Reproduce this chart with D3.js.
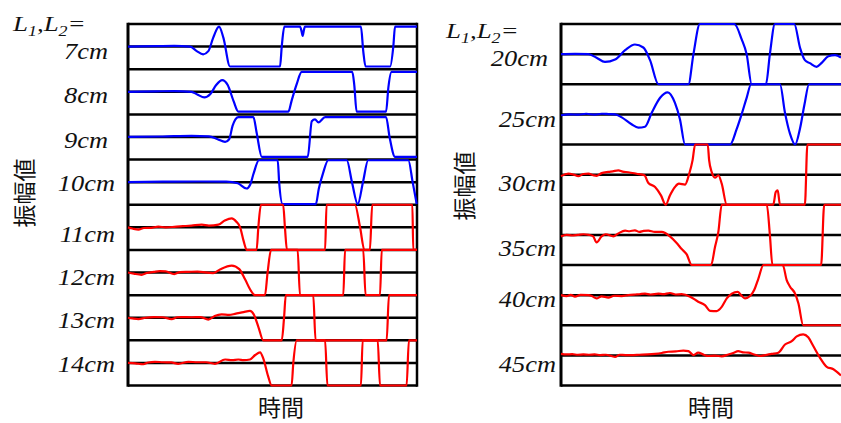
<!DOCTYPE html>
<html>
<head>
<meta charset="utf-8">
<script src="https://cdn.jsdelivr.net/npm/d3@7"></script>
<style>
  body { margin: 0; background: #fff; }
  .row-label { font-family: 'Liberation Serif', 'Times New Roman', serif; font-style: italic; font-size: 24px; fill: #111; }
  .axis-title { font-family: 'Noto Sans CJK JP', 'Noto Sans', sans-serif; font-size: 23px; fill: #111; }
  .grid-line { stroke: #000; stroke-width: 2.5; }
  .trace { fill: none; stroke-width: 2.2; stroke-linejoin: round; }
</style>
</head>
<body>
<svg id="chart"></svg>
<script>
// row labels (L1, L2 distance)
const leftLabels = ['7cm', '8cm', '9cm', '10cm', '11cm', '12cm', '13cm', '14cm'];
const rightLabels = ['20cm', '25cm', '30cm', '35cm', '40cm', '45cm'];

// traces: [time (0-100), amplitude (-1 .. 1 = bottom .. top of the row)]
const trace7 = [[0,0],[10,0.02],[16,0.03],[21.5,0],[23.8,-0.2],[26,-0.34],[27.8,-0.2],[29.5,0.4],[31.5,0.88],[33,0.4],[35.3,-0.88],[52.6,-0.88],[53.2,0],[54.1,0.88],[59.5,0.88],[60.1,0.65],[60.4,0.47],[60.9,0.75],[61.2,0.88],[80.6,0.88],[81.4,-0.2],[82.2,-0.88],[90.7,-0.88],[91.8,0],[92.4,0.88],[100,0.88]];
const trace8 = [[0,0],[10,0.02],[16,0.03],[22,0],[24,-0.12],[26.4,-0.25],[28.5,-0.1],[30.5,0.3],[32.6,0.52],[34.5,0.3],[36.5,-0.4],[38.2,-0.88],[55.5,-0.88],[56.6,-0.4],[58.4,0.35],[60.1,0.88],[77.6,0.88],[78.3,0.3],[79.1,-0.88],[89.3,-0.88],[90.1,0.2],[91.2,0.88],[100,0.88]];
const trace9 = [[0,0],[12,0.02],[22,0.05],[28,0.03],[31,-0.1],[33.6,-0.22],[35,-0.1],[36.2,0.5],[38.2,0.88],[43.4,0.88],[44.5,0.2],[46.3,-0.88],[62.2,-0.88],[63.6,0.7],[64.7,0.78],[65.9,0.65],[68.2,0.88],[89.3,0.88],[90.5,0],[92.4,-0.88],[100,-0.88]];
const trace10 = [[0,0],[12,0.02],[25,0.03],[34,0.02],[38,-0.05],[41,-0.28],[42.3,-0.1],[43.5,0.4],[45.3,0.97],[51.8,0.97],[52.3,0],[53.5,-0.97],[65,-0.97],[66,-0.3],[67.5,0.4],[69.3,0.97],[75.7,0.97],[77.5,0],[79.5,-0.97],[81.3,0],[83.1,0.97],[97,0.97],[98.5,0],[99.9,-0.97]];
const trace11 = [[0,0],[1.5,-0.05],[3.6,-0.1],[5.5,-0.03],[8,-0.02],[10.5,0.03],[13,0],[16,0.02],[19,0.05],[22,0.08],[25.5,0.12],[28,0.08],[31.3,0.12],[33.5,0.3],[35.9,0.4],[37.5,0.25],[38.8,0],[40,-0.6],[41.1,-1],[44.5,-1],[45.1,0],[46,1],[53.7,1],[54.3,0],[55,-1],[68.2,-1],[68.7,1],[78.5,1],[80.3,0],[81.8,-1],[83.7,-1],[84.5,1],[98.4,1],[98.7,-1],[100,-1]];
const trace12 = [[0,0],[2,-0.05],[4.7,-0.1],[6.5,-0.02],[9,0.03],[11,0.06],[13,0.05],[16,-0.07],[18,0.02],[21,0.03],[24,0.04],[29.5,-0.03],[32,0.15],[35.9,0.31],[38.5,0.15],[40.5,-0.3],[42.5,-0.8],[43.9,-1],[47.4,-1],[48.3,0],[49.5,1],[58.7,1],[59.5,-1],[74.5,-1],[75.1,1],[81.4,1],[82.2,-1],[87.2,-1],[87.8,1],[100,1]];
const trace13 = [[0,0],[1.5,-0.03],[3.6,-0.06],[6,0],[9,0.03],[12,0.02],[15.1,-0.06],[17,0.02],[18.6,0.03],[22,0.02],[25,0.03],[27.8,-0.08],[30,0.08],[32.4,0.15],[35,0.13],[37,0.17],[40,0.25],[42.2,0.3],[43.5,0.15],[45.1,-0.4],[46.8,-1],[53.2,-1],[54,0],[54.6,1],[64.1,1],[64.9,-1],[89.5,-1],[90.3,1],[100,1]];
const trace14 = [[0,0],[2.5,-0.02],[5.3,-0.06],[7,0.02],[9.3,0.05],[12,0.03],[15,0.02],[17.4,-0.04],[20.9,0.05],[24,0.03],[27,0.03],[30.1,-0.04],[33.6,0.15],[36,0.12],[38.2,0.15],[40,0.12],[42.2,0.15],[44,0.35],[45.7,0.47],[46.8,0.2],[48.5,-0.6],[49.7,-1],[56.6,-1],[57.2,0],[58.4,1],[68.2,1],[69,-1],[80.6,-1],[81.2,1],[86.4,1],[87.2,-1],[96.4,-1],[97.2,1],[100,1]];

const trace20 = [[0,0],[5,0.01],[9.8,0],[12.7,-0.12],[15.7,-0.26],[19.3,-0.18],[22.9,0.13],[26.4,0.32],[29.4,0.22],[31.8,-0.2],[34.8,-1],[45.5,-1],[47.3,0],[49.6,1],[61.9,1],[64.5,0.5],[66.3,0],[68.1,-1],[73.2,-1],[74.6,0],[76.4,1],[83.3,1],[85.4,0.2],[87.1,-0.2],[88.9,-0.3],[91.3,-0.42],[93.1,-0.29],[95.5,-0.07],[97.9,-0.03],[100,-0.11]];
const trace25 = [[0,-0.03],[3,0],[6,-0.01],[9,0.02],[12,-0.01],[14.5,0.02],[17,0.01],[19.3,0],[21.7,-0.1],[25.2,-0.33],[27.6,-0.44],[30,-0.41],[32.4,0.05],[35.4,0.55],[38.1,0.73],[40.7,0.38],[42.5,-0.17],[44.3,-1],[60.4,-1],[62.7,-0.5],[64.5,0],[66.3,0.55],[67.9,1],[78.2,1],[80,0.05],[81.8,-0.65],[83.6,-1],[85.4,-0.45],[86.9,0.3],[88.6,1],[100,1]];
const trace30 = [[0,-0.05],[2.6,0.03],[4.5,0],[6.2,-0.05],[8,0.02],[9.8,0.03],[11.5,-0.02],[12.7,-0.04],[14.5,0.05],[16.9,0.09],[18.5,0.11],[20.5,0.14],[22,0.1],[24,0.08],[27,0.03],[29.8,-0.02],[31.2,-0.28],[33.6,-0.41],[35.7,-0.69],[37.4,-1],[38.9,-0.69],[40.7,-0.41],[42.1,-0.3],[44.3,-0.33],[45.8,0.03],[47,0.48],[47.9,1],[52.4,1],[52.9,0.48],[53.8,0.09],[55,-0.1],[56.2,-0.02],[57.4,-0.3],[59.2,-1],[75.8,-1],[76.7,-0.58],[77.4,-0.52],[78.2,-1],[87.1,-1],[88,1],[100,1]];
const trace35 = [[0,-0.05],[2,0],[4,-0.02],[6,0],[8,0.02],[10,0],[11.5,-0.05],[12.7,-0.25],[14.5,-0.05],[16,0.02],[18.7,-0.05],[20.5,0.05],[22.9,0.14],[24.5,0.12],[26.4,0.15],[28,0.1],[29.5,0.13],[31.2,0.14],[33.5,0.1],[36,0.1],[38.9,-0.05],[41.3,-0.27],[43.1,-0.47],[44.9,-0.65],[46.7,-1],[53.6,-1],[55,-0.4],[56.2,0.1],[57.4,1],[73.5,1],[74.6,0],[75.5,-1],[92.9,-1],[94,1],[100,1]];
const trace40 = [[0,0],[2,-0.03],[3.5,0.01],[5,-0.05],[7,0.01],[9.8,0],[11,-0.03],[12.7,-0.11],[14.5,-0.04],[16.9,-0.08],[19,-0.02],[21.7,-0.03],[24,0],[26.5,0.02],[28,0.03],[30,0.05],[32,0.02],[34.8,0.05],[36.5,0.03],[38.9,0.07],[41,0.02],[43.1,0.03],[46.1,-0.05],[49,-0.22],[51.4,-0.33],[53.2,-0.52],[55.6,-0.53],[57.4,-0.39],[59.2,-0.11],[61,0.05],[63.1,0.11],[64.3,0],[65.7,-0.11],[67.5,-0.03],[69,0.17],[70.5,0.55],[72.3,1],[79.2,1],[80.6,0.5],[81.8,0.28],[83.6,0.05],[84.8,-0.28],[86.5,-1],[100,-1]];
const trace45 = [[0,0.05],[2,0.03],[4,0.04],[6,0.02],[8,0.03],[10,0.02],[12,0.03],[14,0.01],[16,0.02],[19.3,-0.05],[21,0.02],[23,0.01],[25.2,0.01],[28,0.02],[31,0.03],[33.6,0.05],[36,0.08],[38.3,0.12],[41,0.13],[43.7,0.16],[45.5,0.14],[47.3,0.01],[49,0.09],[51,0.02],[52.6,-0.02],[55,-0.01],[57.4,-0.03],[59.8,0.03],[61.5,0.08],[63.3,0.14],[65,0.1],[66.9,0.09],[69,0.03],[71.1,-0.02],[73,0.01],[75.2,0.05],[77.6,0.09],[80,0.36],[82.4,0.47],[84.2,0.63],[86.5,0.7],[88.3,0.6],[90.1,0.31],[92.5,-0.08],[94.9,-0.38],[97.3,-0.46],[100,-0.67]];

const leftTraces = [trace7, trace8, trace9, trace10, trace11, trace12, trace13, trace14];
const rightTraces = [trace20, trace25, trace30, trace35, trace40, trace45];

const xTitle = '時間';
const yTitle = '振幅値';

class StackedTraces {

  constructor(_config, _labels, _traces) {
    this.config = _config;
    this.labels = _labels;
    this.traces = _traces;
    this.initVis();
  }

  initVis() {
    let vis = this;
    const c = vis.config;

    vis.xScale = d3.scaleLinear()
        .domain([0, 100])
        .range([c.left, c.right]);

    vis.rowScale = d3.scaleBand()
        .domain(vis.labels)
        .range([c.top, c.bottom]);

    vis.chart = c.svg.append('g');

    // horizontal lines: top, center, bottom of every row
    const rowH = vis.rowScale.bandwidth();
    const levels = [];
    vis.labels.forEach(l => {
      levels.push(vis.rowScale(l));
      levels.push(vis.rowScale(l) + rowH / 2);
    });
    levels.push(c.bottom);

    vis.chart.selectAll('.grid-line')
        .data(levels)
      .enter().append('line')
        .attr('class', 'grid-line')
        .attr('x1', c.left)
        .attr('x2', c.right)
        .attr('y1', d => d)
        .attr('y2', d => d);

    vis.chart.append('line')
        .attr('class', 'grid-line')
        .attr('x1', c.left).attr('x2', c.left)
        .attr('y1', c.top - 1.2).attr('y2', c.bottom + 1.2)
        .style('stroke-width', 3);

    if (c.rightBorder) {
      vis.chart.append('line')
          .attr('class', 'grid-line')
          .attr('x1', c.right).attr('x2', c.right)
          .attr('y1', c.top - 1.2).attr('y2', c.bottom + 1.2);
    }

    vis.updateVis();
  }

  updateVis() {
    let vis = this;
    const c = vis.config;
    const rowH = vis.rowScale.bandwidth();

    vis.labels.forEach((label, i) => {
      const yScale = d3.scaleLinear()
          .domain([-1, 1])
          .range([vis.rowScale(label) + rowH, vis.rowScale(label)]);

      const line = d3.line()
          .x(d => vis.xScale(d[0]))
          .y(d => yScale(d[1]))
          .curve(d3.curveMonotoneX);

      vis.chart.append('path')
          .datum(vis.traces[i])
          .attr('class', 'trace')
          .attr('stroke', i < c.blueRows ? '#0000ff' : '#ff0000')
          .attr('d', line);

      // labels are drawn a bit wider than the font, like the source figure
      const lx = c.labelX - (label.length < 4 ? 7 : 0) - c.labelShift(i);
      const ly = vis.rowScale(label) + rowH / 2 + c.labelDy[i];
      vis.chart.append('text')
          .attr('class', 'row-label')
          .attr('transform', `translate(${lx},${ly}) scale(1.1,1)`)
          .attr('text-anchor', 'end')
          .text(label);
    });

    // header  L1,L2=
    const head = vis.chart.append('text')
        .attr('class', 'row-label')
        .attr('transform', `translate(${c.headX},${c.headY}) scale(1.28,1)`)
        .style('font-size', '21px');
    head.append('tspan').text('L');
    head.append('tspan').attr('dy', 5).style('font-size', '14px').text('1');
    head.append('tspan').attr('dy', -5).text(',L');
    head.append('tspan').attr('dy', 5).style('font-size', '14px').text('2');
    head.append('tspan').attr('dy', -5).text('=');

    // axis titles
    vis.chart.append('text')
        .attr('class', 'axis-title')
        .attr('x', (c.left + c.right) / 2 - c.xTitleOffset)
        .attr('y', c.xTitleY)
        .attr('text-anchor', 'middle')
        .text(xTitle);

    vis.chart.append('text')
        .attr('class', 'axis-title')
        .attr('transform', `translate(${c.yTitleX},${c.yTitleY}) rotate(-90)`)
        .attr('text-anchor', 'middle')
        .text(yTitle);
  }
}

const svg = d3.select('#chart')
    .attr('width', 841)
    .attr('height', 423);

new StackedTraces({
  svg: svg, left: 128, right: 417, top: 24, bottom: 385.5,
  blueRows: 4, rightBorder: true,
  labelX: 115, labelShift: () => 0,
  labelDy: [12.4, 11.5, 10.7, 8.8, 14.9, 12.5, 10.6, 8.8],
  headX: 13, headY: 31,
  xTitleY: 416, xTitleOffset: -8.5,
  yTitleX: 33, yTitleY: 193
}, leftLabels, leftTraces);

new StackedTraces({
  svg: svg, left: 561, right: 841, top: 24, bottom: 385.5,
  blueRows: 2, rightBorder: false,
  labelX: 556, labelShift: i => (i === 0 ? 8 : 0),
  labelDy: [11.6, 12.3, 16.4, 21.1, 11.6, 16.3],
  headX: 446, headY: 38,
  xTitleY: 416, xTitleOffset: -10,
  yTitleX: 473, yTitleY: 186
}, rightLabels, rightTraces);
</script>
</body>
</html>
